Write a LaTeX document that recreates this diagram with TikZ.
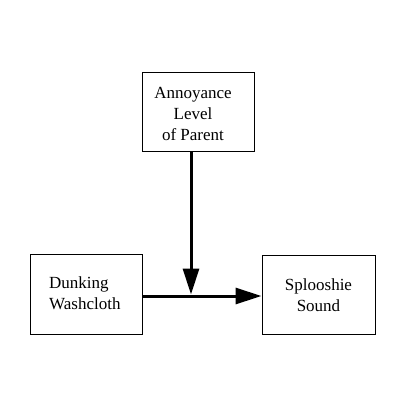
\documentclass[tikz,border=0pt]{standalone}
\usepackage{fontspec}
\setmainfont{Liberation Serif}
\usetikzlibrary{arrows.meta}
\tikzset{
  box/.style={draw=black, line width=1pt, inner sep=0pt, minimum width=112pt, minimum height=79pt},
  lbl/.style={inner sep=0pt, anchor=base, font=\fontsize{17}{21.3}\selectfont},
  conn/.style={line width=3pt, -{Triangle[length=26pt,width=16pt]}}
}
\begin{document}
\begin{tikzpicture}[x=1pt,y=-1pt]
\useasboundingbox (0,0) rectangle (400,400);
\node[box] (T) at (198,111.5) {};
\node[box, minimum height=80pt] (L) at (86,294) {};
\node[box, minimum width=113pt] (R) at (318.5,294.5) {};
\node[lbl] (Tt) at (193,98) {\begin{tabular}[t]{@{}c@{}}Annoyance\\Level\\of Parent\end{tabular}};
\node[lbl, anchor=base west] (Lt) at (49,288.5) {\begin{tabular}[t]{@{}l@{}}Dunking\\Washcloth\end{tabular}};
\node[lbl] (Rt) at (318.5,290) {\begin{tabular}[t]{@{}c@{}}Splooshie\\Sound\end{tabular}};
\coordinate (J) at (191,296);
\coordinate (Jt) at (191,294.5);
\draw[conn] (L.east |- J) -- (R.west |- J);
\draw[conn] (Jt |- T.south) -- (Jt);
\end{tikzpicture}
\end{document}
